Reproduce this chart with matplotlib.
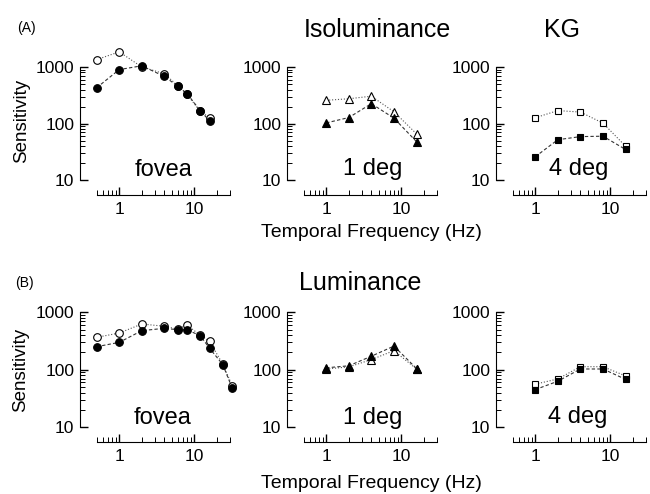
import numpy as np
import matplotlib
matplotlib.use('Agg')
import matplotlib.pyplot as plt
from matplotlib.ticker import FixedLocator, NullFormatter

plt.rcParams['font.family'] = ['Liberation Sans', 'DejaVu Sans']

# data (sensitivity vs temporal frequency)
# (A) isoluminance
iso_fovea_hz = [0.5, 1, 2, 4, 6, 8, 12, 16]
iso_fovea_filled = [430, 900, 1050, 680, 460, 340, 170, 112]
iso_fovea_open = [1350, 1850, 1000, 760, 470, 330, 165, 128]

iso_1deg_hz = [1, 2, 4, 8, 16]
iso_1deg_filled = [103, 128, 225, 125, 48]
iso_1deg_open = [258, 275, 305, 162, 66]

iso_4deg_hz = [1, 2, 4, 8, 16]
iso_4deg_filled = [26, 52, 59, 60, 35]
iso_4deg_open = [127, 170, 160, 102, 40]

# (B) luminance
lum_fovea_hz = [0.5, 1, 2, 4, 6, 8, 12, 16, 24, 32]
lum_fovea_filled = [252, 300, 480, 527, 498, 498, 392, 237, 123, 48]
lum_fovea_open = [367, 436, 627, 572, 510, 600, 400, 313, 125, 53]

lum_1deg_hz = [1, 2, 4, 8, 16]
lum_1deg_filled = [108, 117, 172, 258, 105]
lum_1deg_open = [103, 112, 150, 215, 103]

lum_4deg_hz = [1, 2, 4, 8, 16]
lum_4deg_filled = [45, 63, 103, 103, 68]
lum_4deg_open = [56, 69, 113, 113, 78]

y_ticks = [10, 100, 1000]
y_ticklabels = ['10', '100', '1000']
x_ticks = [1, 10]
x_ticklabels = ['1', '10']

fig = plt.figure(figsize=(6.5, 4.94), dpi=100)

lefts = [0.1231, 0.4415, 0.7631]
width = 0.2308
rows = [(0.6053, 0.3138), (0.1053, 0.3178)]

x_minor = [m * 10.0 ** e for e in (-1, 0, 1) for m in range(2, 10) if 0.5 <= m * 10.0 ** e <= 30]
y_minor = [m * 10.0 ** e for e in (1, 2) for m in range(2, 10)]


def style_axes(ax):
    ax.set_xscale('log')
    ax.set_yscale('log')
    ax.set_xlim(0.3, 30)
    ax.set_ylim(5.5, 3000)
    ax.spines['top'].set_visible(False)
    ax.spines['right'].set_visible(False)
    ax.spines['left'].set_bounds(10, 1000)
    ax.spines['bottom'].set_bounds(0.5, 30)
    for s in ('left', 'bottom'):
        ax.spines[s].set_linewidth(0.8)
    ax.xaxis.set_major_locator(FixedLocator(x_ticks))
    ax.yaxis.set_major_locator(FixedLocator(y_ticks))
    ax.set_xticklabels(x_ticklabels)
    ax.set_yticklabels(y_ticklabels)
    ax.xaxis.set_minor_locator(FixedLocator(x_minor))
    ax.yaxis.set_minor_locator(FixedLocator(y_minor))
    ax.xaxis.set_minor_formatter(NullFormatter())
    ax.yaxis.set_minor_formatter(NullFormatter())
    ax.tick_params(axis='both', which='major', direction='in', length=6, width=1.0,
                   color='black', labelsize=12.5, left=True, bottom=True)
    ax.tick_params(axis='both', which='minor', direction='in', length=3.5, width=0.7,
                   color='black', left=True, bottom=True)
    ax.tick_params(axis='y', which='major', pad=4)
    ax.tick_params(axis='x', which='major', pad=5)
    ax.patch.set_alpha(0)


def draw(ax, hz, filled, opened, marker, ms):
    ax.plot(hz, opened, linestyle=':', color='#555555', lw=0.8, marker=marker,
            ms=ms, mfc='white', mec='black', mew=0.8, zorder=2, clip_on=False)
    ax.plot(hz, filled, linestyle=(0, (3, 2)), color='#333333', lw=0.8, marker=marker,
            ms=ms, mfc='black', mec='black', mew=0.8, zorder=3, clip_on=False)


panels = [
    [(iso_fovea_hz, iso_fovea_filled, iso_fovea_open, 'o', 5.5, 'fovea', 0.56, 0.123),
     (iso_1deg_hz, iso_1deg_filled, iso_1deg_open, '^', 5.5, '1 deg', 0.573, 0.13),
     (iso_4deg_hz, iso_4deg_filled, iso_4deg_open, 's', 5, '4 deg', 0.55, 0.13)],
    [(lum_fovea_hz, lum_fovea_filled, lum_fovea_open, 'o', 5.5, 'fovea', 0.553, 0.115),
     (lum_1deg_hz, lum_1deg_filled, lum_1deg_open, '^', 5.5, '1 deg', 0.57, 0.115),
     (lum_4deg_hz, lum_4deg_filled, lum_4deg_open, 's', 5, '4 deg', 0.543, 0.12)],
]

for (bottom, height), row in zip(rows, panels):
    for left, (hz, filled, opened, marker, ms, label, tx, ty) in zip(lefts, row):
        ax = fig.add_axes([left, bottom, width, height])
        style_axes(ax)
        draw(ax, hz, filled, opened, marker, ms)
        ax.text(tx, ty, label, transform=ax.transAxes, ha='center', va='baseline', fontsize=17)

# titles and labels
fig.text(0.026, 0.943, '(A)', fontsize=10, va='center', ha='left')
fig.text(0.023, 0.427, '(B)', fontsize=10, va='center', ha='left')
fig.text(0.58, 0.939, 'Isoluminance', fontsize=18, ha='center', va='center')
fig.text(0.865, 0.939, 'KG', fontsize=18, ha='center', va='center')
fig.text(0.554, 0.427, 'Luminance', fontsize=18, ha='center', va='center')
fig.text(0.034, 0.755, 'Sensitivity', fontsize=13.5, rotation=90, ha='center', va='center')
fig.text(0.032, 0.251, 'Sensitivity', fontsize=13.5, rotation=90, ha='center', va='center')
fig.text(0.571, 0.530, 'Temporal Frequency (Hz)', fontsize=14, ha='center', va='center')
fig.text(0.571, 0.022, 'Temporal Frequency (Hz)', fontsize=14, ha='center', va='center')

fig.savefig('out.png', dpi=100)
